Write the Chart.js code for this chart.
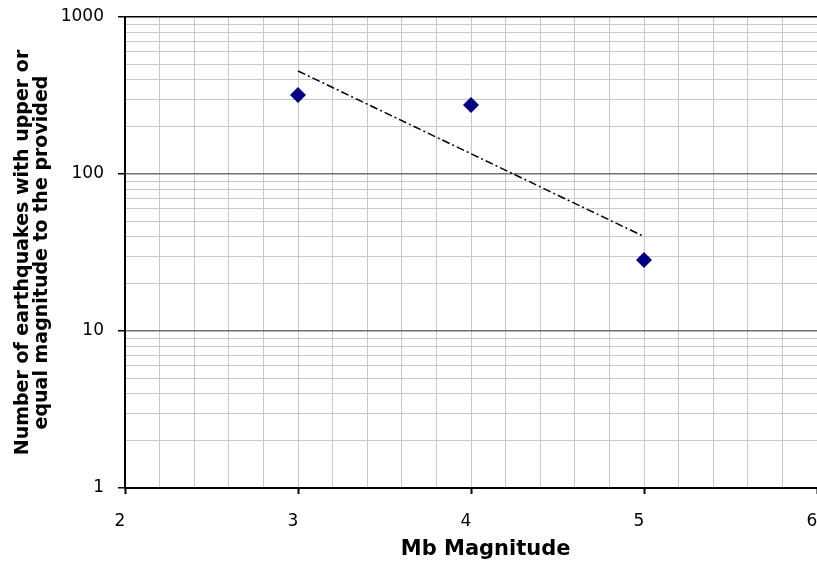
<!DOCTYPE html>
<html>
<head>
<meta charset="utf-8">
<title>Mb Magnitude</title>
<script src="https://cdn.jsdelivr.net/npm/chart.js@4.4.1/dist/chart.umd.min.js"></script>
<style>
    html, body { margin: 0; padding: 0; background: #ffffff; overflow: hidden; width: 817px; height: 562px; }
    #wrap { position: relative; width: 860px; height: 562px; }
</style>
</head>
<body>
<div id="wrap"><canvas id="QuakeChart"></canvas></div>
<script>
const QuakeChartElement = document.getElementById("QuakeChart");

// observed points
const magnitudes = [3, 4, 5];
const quakeCounts = [318, 275, 28.3];

// exponential trend line (straight on the log axis)
const trendMagnitudes = [3, 5];
const trendCounts = [453, 40];

// axis ticks
const xMajorTicks = [2, 3, 4, 5, 6];
const xMinorPerUnit = 5;
const yMajorTicks = [1, 10, 100, 1000];

const FONT = "Verdana, 'DejaVu Sans', sans-serif";

function isWhole(v)
{
    return Math.abs(v - Math.round(v)) < 1e-6;
}

function isPowerOfTen(v)
{
    return yMajorTicks.some(t => Math.abs(t - v) < 1e-6);
}

function BuildXTicks()
{
    var ticks = [];
    for (let i = 0; i < xMajorTicks.length - 1; i++)
    {
        for (let j = 0; j < xMinorPerUnit; j++)
        {
            ticks.push({ value: xMajorTicks[i] + j / xMinorPerUnit });
        }
    }
    ticks.push({ value: xMajorTicks[xMajorTicks.length - 1] });
    return ticks;
}

function BuildYTicks()
{
    var ticks = [];
    for (let i = 0; i < yMajorTicks.length - 1; i++)
    {
        for (let m = 1; m < 10; m++)
        {
            ticks.push({ value: yMajorTicks[i] * m });
        }
    }
    ticks.push({ value: yMajorTicks[yMajorTicks.length - 1] });
    return ticks;
}

function PointData(xs, ys)
{
    var pts = [];
    for (let i = 0; i < xs.length; i++)
    {
        pts[i] = { x: xs[i], y: ys[i] };
    }
    return pts;
}

var QuakeChartVar = new Chart(QuakeChartElement, {
    type: 'scatter',
    data: {
        datasets: [
            {
                label: 'Earthquakes',
                data: PointData(magnitudes, quakeCounts),
                backgroundColor: '#000080',
                borderColor: '#000080',
                borderWidth: 0,
                pointStyle: 'rectRot',
                pointRadius: 8,
                pointHoverRadius: 8,
                order: 1
            },
            {
                type: 'line',
                label: 'Trend',
                data: PointData(trendMagnitudes, trendCounts),
                borderColor: '#000000',
                borderWidth: 1.5,
                borderDash: [8, 3, 2, 3],
                pointRadius: 0,
                fill: false,
                order: 2
            }
        ]
    },
    options: {
        responsive: true,
        maintainAspectRatio: false,
        animation: false,
        layout: {
            padding: { left: 0, right: 43, top: 17, bottom: 0 }
        },
        plugins: {
            legend: { display: false },
            tooltip: { enabled: false }
        },
        scales: {
            x: {
                type: 'linear',
                min: 2,
                max: 6,
                afterBuildTicks: (scale) => { scale.ticks = BuildXTicks(); },
                afterFit: (scale) => {
                    scale.height = 74;
                    scale.paddingLeft = 0;
                    scale.paddingRight = 0;
                },
                border: { color: '#000000', width: 2 },
                grid: {
                    color: '#c8c8c8',
                    lineWidth: 1,
                    tickLength: 6,
                    tickColor: (ctx) => (ctx.tick && isWhole(ctx.tick.value)) ? '#000000' : 'rgba(0,0,0,0)',
                    tickWidth: 2
                },
                ticks: {
                    autoSkip: false,
                    maxRotation: 0,
                    padding: 17,
                    labelOffset: -5,
                    color: '#000000',
                    font: { family: FONT, size: 17 },
                    callback: (value) => isWhole(value) ? String(Math.round(value)) : ''
                },
                title: {
                    display: true,
                    text: '    Mb Magnitude',
                    color: '#000000',
                    font: { family: FONT, size: 21, weight: 'bold' },
                    padding: { top: 4, bottom: 0 }
                }
            },
            y: {
                type: 'logarithmic',
                min: 1,
                max: 1000,
                afterBuildTicks: (scale) => { scale.ticks = BuildYTicks(); },
                afterFit: (scale) => {
                    scale.width = 125;
                    scale.paddingTop = 0;
                    scale.paddingBottom = 0;
                },
                border: { color: '#000000', width: 2 },
                grid: {
                    color: (ctx) => {
                        if (!ctx.tick) return '#c8c8c8';
                        if (ctx.tick.value >= 1000) return '#000000';
                        return isPowerOfTen(ctx.tick.value) ? '#707070' : '#c8c8c8';
                    },
                    lineWidth: (ctx) => (ctx.tick && isPowerOfTen(ctx.tick.value)) ? 1.5 : 1,
                    tickLength: 7,
                    tickColor: (ctx) => (ctx.tick && isPowerOfTen(ctx.tick.value)) ? '#000000' : 'rgba(0,0,0,0)',
                    tickWidth: 1.5
                },
                ticks: {
                    autoSkip: false,
                    padding: 14,
                    color: '#000000',
                    font: { family: FONT, size: 17 },
                    callback: (value) => isPowerOfTen(value) ? String(value) : ''
                },
                title: {
                    display: true,
                    text: ['Number of earthquakes with upper or', 'equal magnitude to the provided'],
                    color: '#000000',
                    font: { family: FONT, size: 19, weight: 'bold', lineHeight: 1.02 },
                    padding: { top: 13, bottom: 0 }
                }
            }
        }
    }
});
</script>
</body>
</html>
